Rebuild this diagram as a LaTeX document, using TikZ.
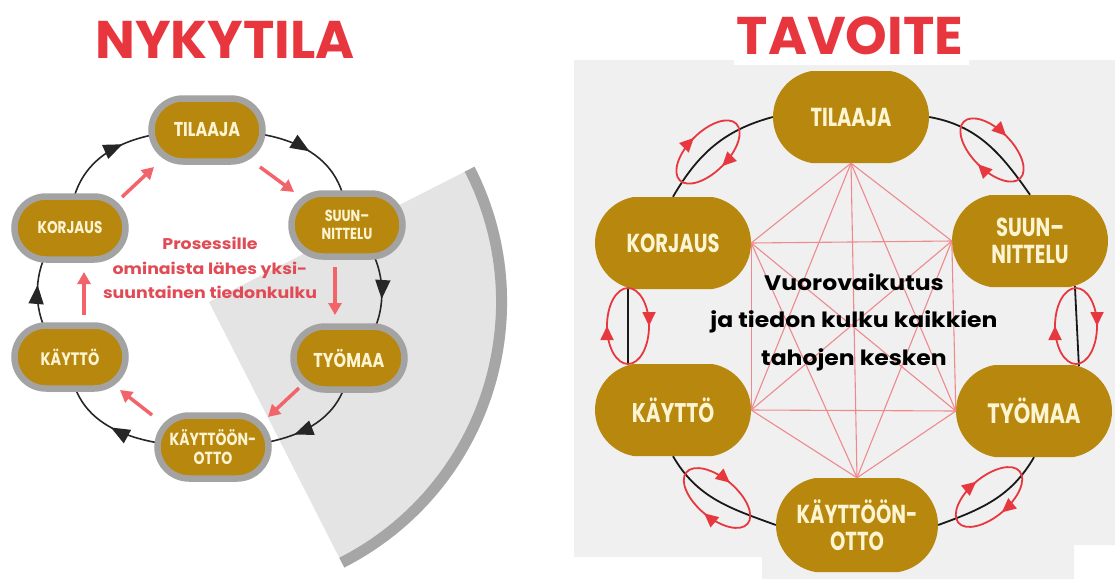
\documentclass[tikz,border=0pt]{standalone}
\usepackage{fontspec}
\setmainfont{Poppins}
\newfontfamily\narrowfont{Poppins}[FakeStretch=0.80]
\newfontfamily\slimfont{Poppins}[FakeStretch=0.75]
\newfontfamily\widefont{Poppins}[FakeStretch=1.12]
\usetikzlibrary{arrows.meta,decorations.markings,shapes.misc,calc}

\definecolor{titlered}{HTML}{E8363F}
\definecolor{gold}{HTML}{B8870E}
\definecolor{ring}{HTML}{A3A3A3}
\definecolor{labelcream}{HTML}{FDF5D2}
\definecolor{flowred}{HTML}{F2646A}
\definecolor{textred}{HTML}{E04B55}
\definecolor{wedgefill}{HTML}{E4E4E4}
\definecolor{wedgerim}{HTML}{A6A6A6}
\definecolor{panelgrey}{HTML}{F0F0F0}
\definecolor{meshred}{HTML}{EE8A8E}
\definecolor{swirlred}{HTML}{E8383F}

\pgfdeclarelayer{back}
\pgfdeclarelayer{mid}
\pgfsetlayers{back,mid,main}

\tikzset{
  title/.style={text=titlered, font=\bfseries\fontsize{53}{58}\selectfont, inner sep=0pt},
  oldstage/.style={rounded rectangle, draw=ring, line width=6.5pt, fill=gold,
    minimum width=111pt, minimum height=63pt, inner sep=0pt, text=labelcream,
    align=center, font=\narrowfont\bfseries\fontsize{20}{22}\selectfont},
  newstage/.style={rounded rectangle, rounded rectangle arc length=160, fill=gold,
    minimum width=156pt, minimum height=92pt, inner sep=0pt, text=labelcream, align=center,
    font=\slimfont\bfseries\fontsize{26}{27}\selectfont},
  cycleflow/.style={draw=black!85, line width=1.6pt, postaction={decorate},
    decoration={markings, mark=at position 0.55 with {\arrow{Triangle[length=19pt,width=15pt]}}}},
  infoflow/.style={draw=flowred, line width=3.5pt, -{Triangle[length=12pt,width=13pt]}},
  ringline/.style={draw=black!90, line width=1.8pt},
  meshline/.style={draw=meshred, line width=1.1pt},
  swirl/.style={draw=swirlred, line width=1.8pt, postaction={decorate},
    decoration={markings,
      mark=at position 0.25 with {\arrowreversed{Triangle[length=14pt,width=13pt]}},
      mark=at position 0.75 with {\arrowreversed{Triangle[length=14pt,width=13pt]}}}},
}

\begin{document}
\begin{tikzpicture}[x=1pt,y=1pt]
\useasboundingbox (0,0) rectangle (1115,-579);

% ---------- backgrounds ----------
\begin{pgfonlayer}{back}
  % grey quarter sector behind the right half of the cycle
  \fill[wedgefill] (209,-302) -- ++(27:298) arc[start angle=27, end angle=-63, radius=298] -- cycle;
  \fill[wedgerim] (209,-302) ++(27:287) arc[start angle=27, end angle=-63, radius=287]
    -- ++(-63:11) arc[start angle=-63, end angle=27, radius=298] -- cycle;
  % panel of the target model
  \fill[panelgrey] (574,-60) -- (734,-60) -- (734,-65) -- (969,-65) -- (969,-60)
    -- (1115,-60) -- (1115,-545) -- (1074,-545) -- (1074,-579) -- (762,-579)
    -- (762,-557) -- (574,-557) -- cycle;
\end{pgfonlayer}

% ---------- titles ----------
\node[title] (t1) at (225,-40) {NYKYTILA};
\node[title] (t2) at (850,-36) {TAVOITE};

% ---------- current state ----------
\node[oldstage] (til) at (207,-130) {TILAAJA};
\node[oldstage, font=\narrowfont\bfseries\fontsize{16}{18}\selectfont] (suun) at (347,-225) {SUUN–\\NITTELU};
\node[oldstage] (tyo) at (349,-358) {TYÖMAA};
\node[oldstage, font=\narrowfont\bfseries\fontsize{17.5}{19}\selectfont] (kat) at (213,-447) {KÄYTTÖÖN-\\OTTO};
\node[oldstage, font=\narrowfont\bfseries\fontsize{18}{20}\selectfont] (kay) at (70,-357) {KÄYTTÖ};
\node[oldstage, font=\narrowfont\bfseries\fontsize{17}{19}\selectfont] (kor) at (70,-228) {KORJAUS};

\begin{pgfonlayer}{mid}
  \draw[cycleflow] (til.center) to[out=0, in=90, looseness=1.15] (suun.center);
  \draw[cycleflow] (suun.center) to[out=-30, in=30] (tyo.center);
  \draw[cycleflow] (tyo.center) to[out=-90, in=0, looseness=1.1] (kat.center);
  \draw[cycleflow] (kat.center) to[out=180, in=-90, looseness=1.1] (kay.center);
  \draw[cycleflow] (kay.center) to[out=150, in=-150] (kor.center);
  \draw[cycleflow] (kor.center) to[out=90, in=180, looseness=1.15] (til.center);
\end{pgfonlayer}

% one-way hand-overs inside the cycle
\draw[infoflow] ($(kor.center)+(52,31)$) -- ($(til.center)+(-53,-37)$);
\draw[infoflow] ($(til.center)+(53,-37)$) -- ($(suun.center)+(-53,33)$);
\draw[infoflow] ($(suun.center)+(-12,-42)$) -- ($(tyo.center)+(-14,43)$);
\draw[infoflow] ($(tyo.center)+(-50,-30)$) -- ($(kat.center)+(55,30)$);
\draw[infoflow] ($(kat.center)+(-61,32)$) -- ($(kay.center)+(50,-33)$);
\draw[infoflow] ($(kay.center)+(14,42)$) -- ($(kor.center)+(14,-44)$);

\node[text=textred, font=\widefont\bfseries\fontsize{15.5}{24.5}\selectfont, align=center] (note1) at (210,-268)
  {Prosessille\\ominaista lähes yksi-\\suuntainen tiedonkulku};

% ---------- target state ----------
\node[newstage] (ntil) at (851,-117) {TILAAJA};
\node[newstage] (nsuun) at (1030,-241) {SUUN–\\NITTELU};
\node[newstage, font=\slimfont\bfseries\fontsize{28}{28}\selectfont] (ntyo) at (1034,-411) {TYÖMAA};
\node[newstage, minimum width=162pt, minimum height=94pt] (nkat) at (857,-525) {KÄYTTÖÖN-\\OTTO};
\node[newstage, font=\slimfont\bfseries\fontsize{27}{28}\selectfont] (nkay) at (673,-410) {KÄYTTÖ};
\node[newstage] (nkor) at (673,-243) {KORJAUS};

% ring between neighbours
\draw[ringline] (ntil.east) to[out=-10, in=125] (nsuun.north);
\draw[ringline] (nsuun.-45) -- (ntyo.45);
\draw[ringline] (ntyo.south) to[out=-120, in=20] (nkat.east);
\draw[ringline] (nkat.west) to[out=160, in=-60] (nkay.south);
\draw[ringline] (nkay.135) -- (nkor.-135);
\draw[ringline] (nkor.north) to[out=60, in=195] (ntil.west);

% every party linked with every other
\foreach \a/\b in {ntil.south/nkor.east, ntil.south/nsuun.west, ntil.south/nkay.east,
  ntil.south/ntyo.west, ntil.south/nkat.north, nkor.east/nsuun.west, nkor.east/nkay.east,
  nkor.east/ntyo.west, nkor.east/nkat.north, nsuun.west/nkay.east, nsuun.west/ntyo.west,
  nsuun.west/nkat.north, nkay.east/ntyo.west, nkay.east/nkat.north, ntyo.west/nkat.north}
  \draw[meshline] (\a) -- (\b);

% two-way exchange on each stretch of the ring
\begin{scope}[shift={(708,-152)}, rotate=45]
  \draw[swirl] (0,0) ellipse[x radius=40, y radius=20];
\end{scope}
\begin{scope}[shift={(992,-150)}, rotate=-45]
  \draw[swirl] (0,0) ellipse[x radius=40, y radius=20];
\end{scope}
\begin{scope}[shift={(628,-326)}, rotate=90]
  \draw[swirl] (0,0) ellipse[x radius=38, y radius=21];
\end{scope}
\begin{scope}[shift={(1076,-326)}, rotate=90]
  \draw[swirl] (0,0) ellipse[x radius=38, y radius=21];
\end{scope}
\begin{scope}[shift={(717,-498)}, rotate=-40]
  \draw[swirl] (0,0) ellipse[x radius=40, y radius=20];
\end{scope}
\begin{scope}[shift={(989,-497)}, rotate=40]
  \draw[swirl] (0,0) ellipse[x radius=40, y radius=20];
\end{scope}

\node[font=\widefont\bfseries\fontsize{21}{37.5}\selectfont, align=center] (note2) at (854,-322)
  {Vuorovaikutus\\ja tiedon kulku kaikkien\\tahojen kesken};
\end{tikzpicture}
\end{document}
